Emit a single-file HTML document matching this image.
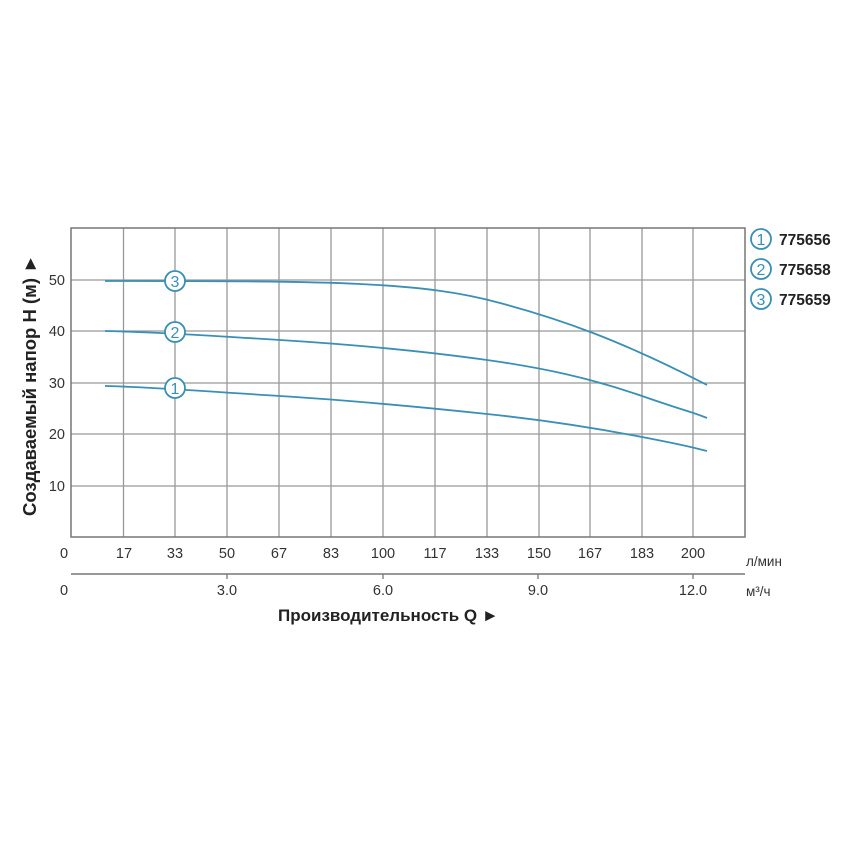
<!DOCTYPE html>
<html><head><meta charset="utf-8"><style>
body{margin:0;background:#fff}
svg{display:block;font-family:"Liberation Sans",sans-serif}
</style></head><body>
<svg width="850" height="850" viewBox="0 0 850 850">
<g stroke="#999" stroke-width="1.3" fill="none">
<line x1="123.5" y1="228" x2="123.5" y2="537"/><line x1="175" y1="228" x2="175" y2="537"/>
<line x1="227" y1="228" x2="227" y2="537"/><line x1="279" y1="228" x2="279" y2="537"/>
<line x1="331" y1="228" x2="331" y2="537"/><line x1="383" y1="228" x2="383" y2="537"/>
<line x1="435" y1="228" x2="435" y2="537"/><line x1="487" y1="228" x2="487" y2="537"/>
<line x1="539" y1="228" x2="539" y2="537"/><line x1="590" y1="228" x2="590" y2="537"/>
<line x1="642" y1="228" x2="642" y2="537"/><line x1="693" y1="228" x2="693" y2="537"/>
<line x1="71" y1="280" x2="745" y2="280"/><line x1="71" y1="331" x2="745" y2="331"/>
<line x1="71" y1="383" x2="745" y2="383"/><line x1="71" y1="434" x2="745" y2="434"/>
<line x1="71" y1="486" x2="745" y2="486"/>
</g>
<rect x="71" y="228" width="674" height="309" fill="none" stroke="#777" stroke-width="1.5"/>
<line x1="71" y1="574" x2="745" y2="574" stroke="#777" stroke-width="1.5"/>
<g stroke="#777" stroke-width="1.3"><line x1="227" y1="574" x2="227" y2="579"/><line x1="383" y1="574" x2="383" y2="579"/><line x1="538" y1="574" x2="538" y2="579"/><line x1="693" y1="574" x2="693" y2="579"/></g>
<g fill="none" stroke="#3a8fb7" stroke-width="1.8">
<path d="M105,281 C200,281 300,281 360,284 C420,287 460,292 500,303 C560,319 620,340 707,385"/>
<path d="M105,331 C150,332 200,335 280,340 S430,352 487,360 S590,378 642,396 S690,411 707,418"/>
<path d="M105,386 C150,387 200,391 280,396 S430,408 487,414 S590,427 642,437 S690,447 707,451"/>
</g>
<g fill="#fff" stroke="#3a8fb7" stroke-width="1.8">
<circle cx="175" cy="281" r="10"/><circle cx="175" cy="332" r="10"/><circle cx="175" cy="388" r="10"/>
<circle cx="761" cy="239" r="10"/><circle cx="761" cy="269" r="10"/><circle cx="761" cy="299" r="10"/>
</g>
<g fill="#3a8fb7" font-size="16" text-anchor="middle">
<text x="175" y="287">3</text><text x="175" y="338">2</text><text x="175" y="394">1</text>
<text x="761" y="245">1</text><text x="761" y="275">2</text><text x="761" y="305">3</text>
</g>
<g font-size="15.5" font-weight="bold" fill="#222"><text x="779" y="245">775656</text><text x="779" y="275">775658</text><text x="779" y="305">775659</text></g>
<g font-size="14.5" fill="#333" text-anchor="end"><text x="65" y="285">50</text><text x="65" y="336">40</text><text x="65" y="388">30</text><text x="65" y="439">20</text><text x="65" y="491">10</text></g>
<g font-size="14.5" fill="#333" text-anchor="middle">
<text x="64" y="558">0</text><text x="124" y="558">17</text><text x="175" y="558">33</text><text x="227" y="558">50</text><text x="279" y="558">67</text><text x="331" y="558">83</text><text x="383" y="558">100</text><text x="435" y="558">117</text><text x="487" y="558">133</text><text x="539" y="558">150</text><text x="590" y="558">167</text><text x="642" y="558">183</text><text x="693" y="558">200</text>
<text x="64" y="595">0</text><text x="227" y="595">3.0</text><text x="383" y="595">6.0</text><text x="538" y="595">9.0</text><text x="693" y="595">12.0</text>
</g>
<g font-size="13.5" fill="#333"><text x="746" y="566">л/мин</text><text x="746" y="596">м³/ч</text></g>
<text x="278" y="621" font-size="17" font-weight="bold" fill="#222">Производительность Q ►</text>
<text transform="translate(36,516) rotate(-90)" font-size="18.5" font-weight="bold" fill="#222">Создаваемый напор H (м) ►</text>
</svg>
</body></html>
